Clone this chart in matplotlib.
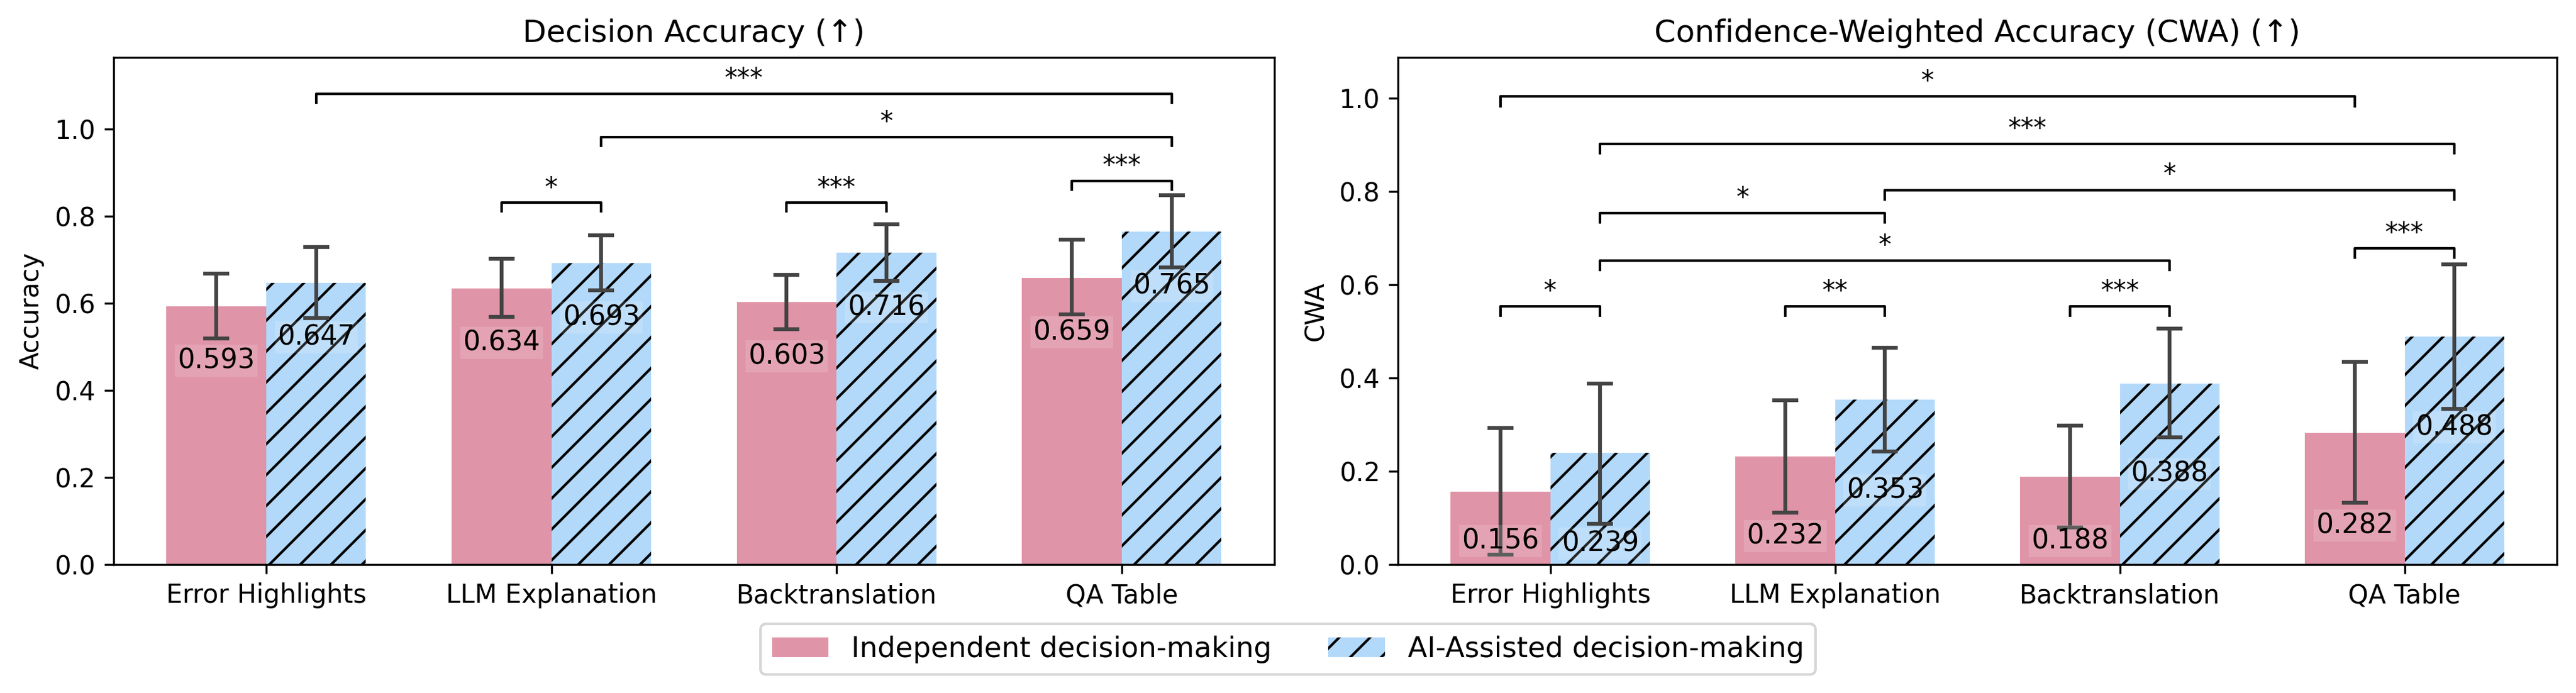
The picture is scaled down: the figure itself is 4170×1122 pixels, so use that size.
import numpy as np
import matplotlib
matplotlib.use("Agg")
import matplotlib.pyplot as plt

# ===== data =====
methods = ["Error Highlights", "LLM Explanation", "Backtranslation", "QA Table"]
series = ["Independent decision-making", "AI-Assisted decision-making"]

acc_indep = [0.593, 0.634, 0.603, 0.659]
acc_ai = [0.647, 0.693, 0.716, 0.765]
acc_indep_lo = [0.519, 0.569, 0.541, 0.574]
acc_indep_hi = [0.668, 0.703, 0.666, 0.746]
acc_ai_lo = [0.566, 0.630, 0.652, 0.683]
acc_ai_hi = [0.730, 0.757, 0.782, 0.849]

cwa_indep = [0.156, 0.232, 0.188, 0.282]
cwa_ai = [0.239, 0.353, 0.388, 0.488]
cwa_indep_lo = [0.021, 0.111, 0.080, 0.133]
cwa_indep_hi = [0.293, 0.352, 0.298, 0.434]
cwa_ai_lo = [0.088, 0.242, 0.273, 0.333]
cwa_ai_hi = [0.388, 0.465, 0.506, 0.643]

# significance brackets: ((method, series), (method, series), level, stars)
# series 0 = independent, 1 = AI-assisted
acc_sig = [
    ((1, 0), (1, 1), 0.831, "*"),
    ((2, 0), (2, 1), 0.831, "***"),
    ((3, 0), (3, 1), 0.881, "***"),
    ((1, 1), (3, 1), 0.982, "*"),
    ((0, 1), (3, 1), 1.081, "***"),
]
cwa_sig = [
    ((0, 0), (0, 1), 0.554, "*"),
    ((1, 0), (1, 1), 0.554, "**"),
    ((2, 0), (2, 1), 0.554, "***"),
    ((0, 1), (2, 1), 0.652, "*"),
    ((3, 0), (3, 1), 0.678, "***"),
    ((0, 1), (1, 1), 0.753, "*"),
    ((1, 1), (3, 1), 0.803, "*"),
    ((0, 1), (3, 1), 0.902, "***"),
    ((0, 0), (3, 0), 1.003, "*"),
]

PINK = "#e094a8"
BLUE = "#b3d9fa"
ERR = "#444444"
width = 0.35

fig = plt.figure(figsize=(13.9, 3.74), dpi=300)
ax1 = fig.add_axes([0.0441, 0.1854, 0.4506, 0.7317])
ax2 = fig.add_axes([0.5427, 0.1854, 0.4499, 0.7317])


def draw(ax, indep, ai, ilo, ihi, alo, ahi, sig, title, ylabel, ytop, label_off):
    x = np.arange(len(methods))
    xi = x - width / 2
    xa = x + width / 2
    b1 = ax.bar(xi, indep, width, color=PINK, label=series[0])
    b2 = ax.bar(xa, ai, width, color=BLUE, edgecolor="black", linewidth=0,
                hatch="//", label=series[1])
    indep = np.array(indep)
    ai = np.array(ai)
    ax.errorbar(xi, indep, yerr=[indep - np.array(ilo), np.array(ihi) - indep],
                fmt="none", ecolor=ERR, elinewidth=1.5, capsize=5, capthick=1.5)
    ax.errorbar(xa, ai, yerr=[ai - np.array(alo), np.array(ahi) - ai],
                fmt="none", ecolor=ERR, elinewidth=1.5, capsize=5, capthick=1.5)

    box = dict(boxstyle="square,pad=0.1", facecolor="white", alpha=0.15, edgecolor="none")
    for i in range(len(methods)):
        yi, ya = label_off(indep[i], 0, i), label_off(ai[i], 1, i)
        ax.text(xi[i], yi, f"{indep[i]:.3f}", ha="center", va="center",
                fontsize=10.5, bbox=box)
        ax.text(xa[i], ya, f"{ai[i]:.3f}", ha="center", va="center",
                fontsize=10.5, bbox=box)

    pos = {0: xi, 1: xa}
    for (m1, s1), (m2, s2), y, stars in sig:
        x1 = pos[s1][m1]
        x2 = pos[s2][m2]
        ax.plot([x1, x1, x2, x2], [y - 0.02, y, y, y - 0.02], color="black", lw=1.0)
        ax.text((x1 + x2) / 2, y + 0.004, stars, ha="center", va="bottom", fontsize=10)

    ax.set_xticks(x)
    ax.set_xticklabels(methods, fontsize=10)
    ax.tick_params(axis="y", labelsize=10)
    ax.set_ylim(0, ytop)
    ax.set_ylabel(ylabel, fontsize=10)
    ax.set_title(title, fontsize=12)
    return b1, b2


# label under the lower whisker for short CWA bars, else a fixed drop below the top
h1, h2 = draw(ax1, acc_indep, acc_ai, acc_indep_lo, acc_indep_hi, acc_ai_lo, acc_ai_hi,
              acc_sig, "Decision Accuracy (↑)", "Accuracy", 1.165,
              lambda v, s, i: v - 0.125)
draw(ax2, cwa_indep, cwa_ai, cwa_indep_lo, cwa_indep_hi, cwa_ai_lo, cwa_ai_hi,
     cwa_sig, "Confidence-Weighted Accuracy (CWA) (↑)", "CWA", 1.087,
     lambda v, s, i: v - 0.194 if s == 1 else max(cwa_indep_lo[i] - 0.05, 0.05))

fig.legend([h1, h2], series, loc="center", bbox_to_anchor=(0.5, 0.063), ncol=2,
           fontsize=11, frameon=True)

fig.savefig("out.png", dpi=300)
